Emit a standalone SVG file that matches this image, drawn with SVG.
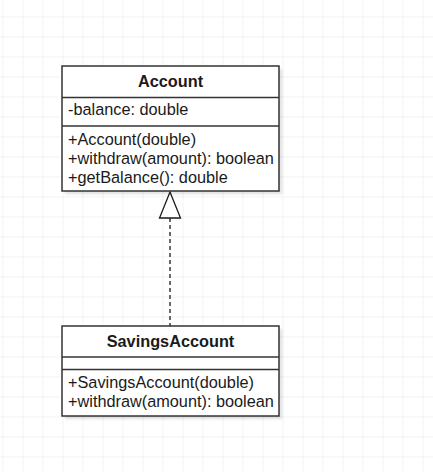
<svg xmlns="http://www.w3.org/2000/svg" width="433" height="472" viewBox="0 0 433 472">
<defs>
<pattern id="grid" x="2.5" y="16.5" width="20" height="20" patternUnits="userSpaceOnUse">
<path d="M0 0H20M0 0V20" fill="none" stroke="#e6e6e6" stroke-width="1"/>
</pattern>
<filter id="sh" x="-10%" y="-10%" width="130%" height="130%">
<feGaussianBlur stdDeviation="1.8"/>
</filter>
</defs>
<style>
.box{fill:#ffffff;stroke:#333333;stroke-width:1.5}
.shadow{fill:#000000;opacity:0.12}
.div{stroke:#333333;stroke-width:1.5}
.t{font-family:"Liberation Sans",Arial,sans-serif;font-size:16.3px;fill:#1a1a1a}
.h{font-family:"Liberation Sans",Arial,sans-serif;font-size:16.3px;font-weight:bold;fill:#1a1a1a;text-anchor:middle}
</style>
<rect width="433" height="472" fill="#ffffff"/>
<rect width="433" height="472" fill="url(#grid)"/>
<g id="connectors">
<line x1="170" y1="218" x2="170" y2="326" stroke="#1a1a1a" stroke-width="1.3" stroke-dasharray="4,3"/>
<polygon points="170,192 159.5,218 180.5,218" fill="#ffffff" stroke="#1a1a1a" stroke-width="1.3"/>
</g>
<g id="Account">
<rect class="shadow" x="65" y="69" width="217" height="125" filter="url(#sh)"/>
<rect class="box" x="62" y="66" width="217" height="125"/>
<line class="div" x1="62" y1="97.5" x2="279" y2="97.5"/>
<line class="div" x1="62" y1="126" x2="279" y2="126"/>
<text class="h" x="170.5" y="87">Account</text>
<text class="t" x="68" y="115">-balance: double</text>
<text class="t" x="68" y="145">+Account(double)</text>
<text class="t" x="68" y="164">+withdraw(amount): boolean</text>
<text class="t" x="68" y="183">+getBalance(): double</text>
</g>
<g id="SavingsAccount">
<rect class="shadow" x="65" y="329" width="217" height="90" filter="url(#sh)"/>
<rect class="box" x="62" y="326" width="217" height="90"/>
<line class="div" x1="62" y1="357" x2="279" y2="357"/>
<line class="div" x1="62" y1="369.5" x2="279" y2="369.5"/>
<text class="h" x="170.5" y="347">SavingsAccount</text>
<text class="t" x="68" y="388">+SavingsAccount(double)</text>
<text class="t" x="68" y="407">+withdraw(amount): boolean</text>
</g>
</svg>
